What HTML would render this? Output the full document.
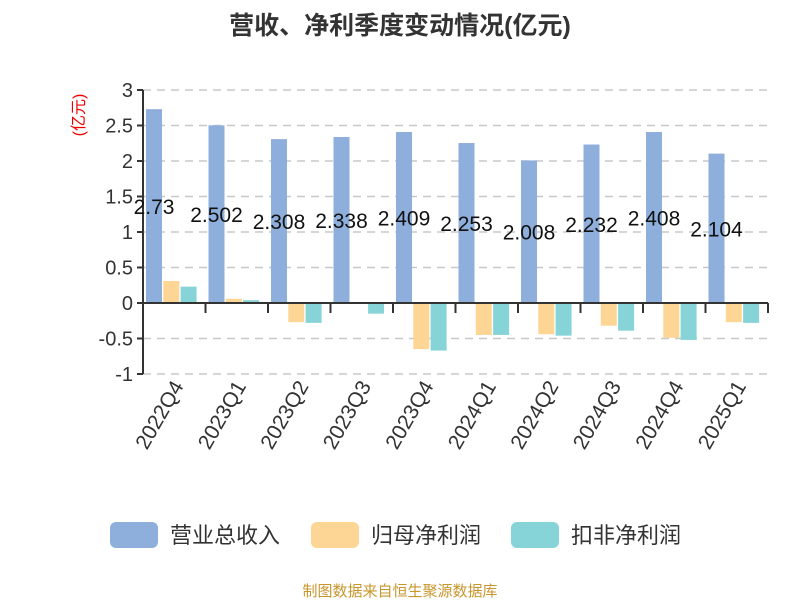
<!DOCTYPE html>
<html><head><meta charset="utf-8"><style>body{margin:0;background:#fff}svg{display:block;font-family:"Liberation Sans","Noto Sans CJK SC",sans-serif}</style></head>
<body>
<svg id="c" width="800" height="600"></svg>
<script>
const categories=["2022Q4","2023Q1","2023Q2","2023Q3","2023Q4","2024Q1","2024Q2","2024Q3","2024Q4","2025Q1"];
const revenue=[2.73,2.502,2.308,2.338,2.409,2.253,2.008,2.232,2.408,2.104];
const netProfit=[0.31,0.06,-0.27,0.01,-0.65,-0.45,-0.44,-0.32,-0.49,-0.27];
const netProfitDed=[0.23,0.04,-0.28,-0.15,-0.67,-0.45,-0.46,-0.39,-0.52,-0.28];
const yTicks=[3,2.5,2,1.5,1,0.5,0,-0.5,-1];
const yTickLabels=["3","2.5","2","1.5","1","0.5","0","-0.5","-1"];
const colors=["#8eaedb","#fdd595","#86d4d8"];
const legendNames=["营业总收入","归母净利润","扣非净利润"];
const svg=document.getElementById('c');const NS="http://www.w3.org/2000/svg";
function mk(t,a,txt){const e=document.createElementNS(NS,t);for(const k in a)e.setAttribute(k,a[k]);if(txt!==undefined)e.textContent=txt;svg.appendChild(e);return e;}
const x0=143,x1=768,y0v=3,y1v=-1,py0=90,py1=374;
const Y=v=>py0+(y0v-v)*(py1-py0)/(y0v-y1v);
const bw=(x1-x0)/categories.length;
const X=i=>x0+i*bw;
let e=mk('text',{x:400,y:34,'text-anchor':'middle','font-size':25,'font-weight':'bold',fill:'#333'},'营收、净利季度变动情况(亿元)');

e=mk('text',{x:0,y:0,transform:'translate(84,115) rotate(-90)','text-anchor':'middle','font-size':16,fill:'#e00'},'(亿元)');

yTicks.forEach((v,i)=>{
 if(v!==0){const g=mk('line',{x1:x0,x2:x1,y1:Y(v),y2:Y(v),stroke:'#c8c8c8','stroke-dasharray':'8,6','stroke-width':1.5});
 }
 const t=mk('line',{x1:x0-6,x2:x0,y1:Y(v),y2:Y(v),stroke:'#333','stroke-width':2});
 
 const l=mk('text',{x:x0-10,y:Y(v)+7,'text-anchor':'end','font-size':20,fill:'#333'},yTickLabels[i]);
 
});
[revenue,netProfit,netProfitDed].forEach((s,si)=>{
 s.forEach((v,i)=>{
  const bx=X(i)+3+si*17.3;const top=Math.min(Y(v),Y(0));
  const r=mk('rect',{x:bx,y:top,width:16,height:Math.abs(Y(v)-Y(0)),fill:colors[si]});
  
  
 });
});
const ax=mk('line',{x1:x0,x2:x0,y1:py0,y2:py1,stroke:'#333','stroke-width':2});

const xa=mk('line',{x1:x0,x2:x1,y1:Y(0),y2:Y(0),stroke:'#333','stroke-width':2});

categories.forEach((c,i)=>{
 const t=mk('line',{x1:X(i+1),x2:X(i+1),y1:Y(0),y2:Y(0)+10,stroke:'#333','stroke-width':2});
 
 const cx=X(i)+bw/2;
 const l=mk('text',{transform:`translate(${cx+10},${py1+12}) rotate(-60)`,'text-anchor':'end','font-size':21,fill:'#333'},c);
 
 const v=mk('text',{x:X(i)+11,y:Y(revenue[i]/2)+8,'text-anchor':'middle','font-size':21,fill:'#111'},String(revenue[i]));
 
});
const lx=[110,311,511];
legendNames.forEach((n,i)=>{
 const r=mk('rect',{x:lx[i],y:522,width:48,height:26,rx:6,fill:colors[i]});
 
 const t=mk('text',{x:lx[i]+60,y:543,'font-size':22,fill:'#333'},n);
 
});
e=mk('text',{x:400,y:596,'text-anchor':'middle','font-size':15,fill:'#c8962c'},'制图数据来自恒生聚源数据库');

</script>
</body></html>
